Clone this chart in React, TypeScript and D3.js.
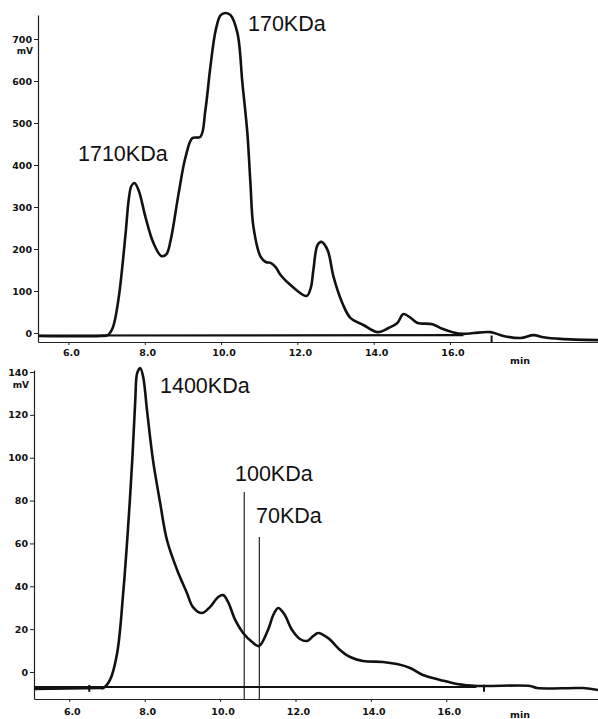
import React, { useEffect, useRef } from 'react';
import * as d3 from 'd3';

// upper chromatogram (retention time in min, signal in mV)
const topTime = [5.22, 6.84, 7.03, 7.16, 7.31, 7.5, 7.58, 7.65, 7.73, 7.84, 8.02, 8.23, 8.44, 8.57, 8.68, 8.89, 9.07, 9.25, 9.46, 9.59, 9.72, 9.86, 9.99, 10.12, 10.25, 10.43, 10.56, 10.69, 10.77, 10.85, 11.04, 11.17, 11.3, 11.43, 11.56, 11.82, 12.24, 12.35, 12.42, 12.53, 12.63, 12.79, 12.95, 13.18, 13.39, 13.73, 14.1, 14.39, 14.62, 14.78, 14.97, 15.15, 15.54, 15.8, 16.07, 16.35, 16.62, 17.06, 17.4, 17.85, 18.19, 18.45, 18.9, 19.89];
const topSignal = [-7, -7, -5, 12, 79, 238, 317, 350, 357, 340, 276, 214, 183, 188, 221, 333, 419, 464, 467, 531, 633, 721, 757, 762, 757, 714, 595, 476, 357, 252, 181, 169, 167, 157, 138, 114, 88, 107, 150, 210, 217, 198, 133, 71, 36, 19, 2, 12, 24, 45, 36, 24, 21, 10, 2, -2, 0, 2, -7, -12, -5, -10, -14, -17];
const topBaseline = [[5.22, -6], [16.35, -5]];
const topMarks = [17.09];
const topTicksY = [0, 100, 200, 300, 400, 500, 600, 700];

// lower chromatogram
const botTime = [5.07, 6.82, 6.9, 7.08, 7.27, 7.43, 7.56, 7.67, 7.75, 7.8, 7.88, 7.96, 8.06, 8.22, 8.41, 8.59, 8.86, 9.12, 9.28, 9.52, 9.73, 9.95, 10.08, 10.21, 10.4, 10.61, 10.85, 11.03, 11.27, 11.41, 11.54, 11.7, 11.91, 12.12, 12.31, 12.47, 12.6, 12.86, 13.18, 13.45, 13.79, 14.32, 14.69, 15.04, 15.38, 15.84, 16.29, 16.82, 18.22, 18.41, 19.63, 20.03];
const botSignal = [-7.9, -7.5, -7.5, -3.7, 8.9, 36.9, 67.7, 98.9, 126.9, 139.5, 141.9, 137.7, 122.3, 98.9, 78.9, 61.6, 47.6, 36.9, 30.3, 27.5, 30.3, 35, 35.9, 32.7, 24.3, 18.2, 14, 12.1, 19.6, 26.6, 29.9, 27.1, 19.6, 15.4, 14.5, 16.8, 18.2, 15.9, 10.3, 7, 5.1, 4.7, 3.7, 1.9, -1.4, -3.7, -5.6, -6.5, -6.5, -7.5, -7.5, -8.4];
const botBaseline = [[5.07, -7], [16.8, -7]];
const botMarks = [6.53, 17.0];
const botTicksY = [0, 20, 40, 60, 80, 100, 120, 140];

// molecular weight markers (time, top of line in mV)
const markerTime = [10.64, 11.04];
const markerTop = [84, 63];

const xTicks = [6, 8, 10, 12, 14, 16];

const tickFont = 'DejaVu Sans, Verdana, sans-serif';
const labelFont = 'Liberation Sans, Arial, Helvetica, sans-serif';

const App = () => {
  const svgRef = useRef<SVGSVGElement>(null);

  useEffect(() => {
    const svg = d3.select(svgRef.current);
    svg.selectAll('*').remove();

    const drawPanel = (opts: any) => {
      const { x, y, axisX, axisTop, axisY, time, signal, baseline, marks, yTicks, mvY, minY, numY } = opts;
      const g = svg.append('g');

      // axes with extended ranges to the panel edges
      const xAxisScale = x.copy().domain([x.invert(axisX), x.invert(598)]).range([axisX, 598]);
      const yAxisScale = y.copy().domain([y.invert(axisY), y.invert(axisTop)]).range([axisY, axisTop]);

      const xa = g.append('g').attr('transform', `translate(0,${axisY})`)
        .call(d3.axisBottom(xAxisScale).tickValues(xTicks).tickSize(3).tickSizeOuter(0).tickFormat(() => ''));
      xa.select('.domain').attr('stroke', '#222').attr('stroke-width', 1.2);
      xa.selectAll('.tick line').attr('stroke', '#222');

      g.selectAll('.xlab').data(xTicks).join('text')
        .attr('class', 'xlab')
        .attr('x', d => x(d) + 3).attr('y', numY)
        .attr('text-anchor', 'middle')
        .attr('font-family', tickFont).attr('font-weight', 'bold').attr('font-size', 9.5)
        .attr('fill', '#111')
        .text(d => d3.format('.1f')(d));
      g.append('text').attr('x', 520).attr('y', minY).attr('text-anchor', 'middle')
        .attr('font-family', tickFont).attr('font-weight', 'bold').attr('font-size', 9.5)
        .attr('fill', '#111').text('min');

      const ya = g.append('g').attr('transform', `translate(${axisX},0)`)
        .call(d3.axisLeft(yAxisScale).tickValues(yTicks).tickSize(4).tickSizeOuter(0).tickPadding(2));
      ya.select('.domain').attr('stroke', '#222').attr('stroke-width', 1.2);
      ya.selectAll('.tick line').attr('stroke', '#222');
      ya.selectAll('.tick text')
        .attr('font-family', tickFont).attr('font-weight', 'bold').attr('font-size', 9.5).attr('fill', '#111');
      g.append('text').attr('x', axisX - 5).attr('y', mvY).attr('text-anchor', 'end')
        .attr('font-family', tickFont).attr('font-weight', 'bold').attr('font-size', 9).attr('fill', '#111').text('mV');

      // integration baseline
      g.append('path')
        .attr('d', d3.line<number[]>().x(d => x(d[0])).y(d => y(d[1]))(baseline))
        .attr('fill', 'none').attr('stroke', '#111').attr('stroke-width', 2.2);

      // small event ticks on the baseline
      g.selectAll('.mark').data(marks).join('line')
        .attr('class', 'mark')
        .attr('x1', d => x(d)).attr('x2', d => x(d))
        .attr('y1', y(-6)).attr('y2', y(-6) + 7)
        .attr('stroke', '#111').attr('stroke-width', 2);

      const pts = time.map((t: number, i: number) => [t, signal[i]]);
      g.append('path')
        .attr('d', d3.line<number[]>().x(d => x(d[0])).y(d => y(d[1])).curve(d3.curveCatmullRom.alpha(0.5))(pts))
        .attr('fill', 'none').attr('stroke', '#111').attr('stroke-width', 2.6)
        .attr('stroke-linejoin', 'round');
      return g;
    };

    const xTop = d3.scaleLinear().domain([6, 16]).range([68.4, 450]);
    const yTop = d3.scaleLinear().domain([0, 700]).range([333, 39]);
    drawPanel({
      x: xTop, y: yTop, axisX: 38, axisTop: 15, axisY: 342,
      time: topTime, signal: topSignal, baseline: topBaseline, marks: topMarks,
      yTicks: topTicksY, mvY: 54, minY: 364, numY: 356,
    });

    const xBot = d3.scaleLinear().domain([6, 16]).range([69.3, 446.3]);
    const yBot = d3.scaleLinear().domain([0, 140]).range([672, 372]);
    const gb = drawPanel({
      x: xBot, y: yBot, axisX: 34, axisTop: 370, axisY: 699,
      time: botTime, signal: botSignal, baseline: botBaseline, marks: botMarks,
      yTicks: botTicksY, mvY: 388, minY: 718, numY: 715,
    });

    gb.selectAll('.mw').data(markerTime).join('line')
      .attr('class', 'mw')
      .attr('x1', d => xBot(d)).attr('x2', d => xBot(d))
      .attr('y1', (d, i) => yBot(markerTop[i])).attr('y2', 699)
      .attr('stroke', '#111').attr('stroke-width', 1.1);

    const labels = [
      { text: '1710KDa', x: 78, y: 161 },
      { text: '170KDa', x: 248, y: 31 },
      { text: '1400KDa', x: 160, y: 393 },
      { text: '100KDa', x: 235, y: 481 },
      { text: '70KDa', x: 256, y: 523 },
    ];
    svg.selectAll('.lbl').data(labels).join('text')
      .attr('class', 'lbl')
      .attr('x', d => d.x).attr('y', d => d.y)
      .attr('font-family', labelFont).attr('font-size', 21.5).attr('fill', '#111')
      .text(d => d.text);
  }, []);

  return (
    <svg ref={svgRef} width={598} height={719}
      style={{ position: 'absolute', left: 0, top: 0, background: '#fff' }} />
  );
};

export default App;
